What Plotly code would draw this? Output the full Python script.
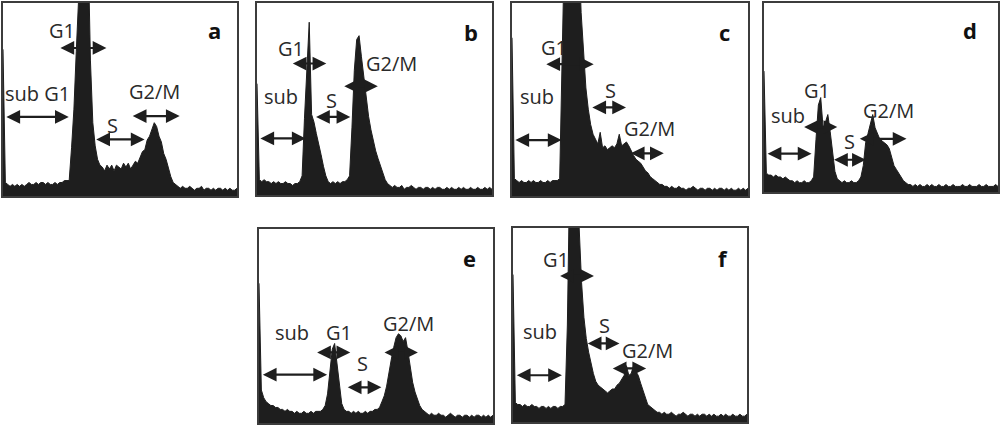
import plotly.graph_objects as go

# ---------------- data: DNA-content histograms (counts in % of frame height) ----------
channels = list(range(100))

counts_a = [76,
            7, 6, 5, 6, 5, 6, 5, 6, 5, 6, 7, 6, 6, 7, 6, 7, 7, 6, 7, 6, 6, 7, 6, 7, 7, 8, 8,
            8, 25, 45, 75, 130, 130, 130, 130, 130, 70, 38, 26, 19, 16,
            15, 13, 16, 14, 16, 13, 16, 15, 14, 17, 15, 17, 14, 16, 18, 17,
            20, 23, 24, 29, 31, 34, 38, 36, 31, 28, 22, 19, 14, 10, 7, 6,
            5, 4, 5, 4, 4, 5, 4, 3, 4, 4, 5, 3, 4, 4, 3, 4, 3, 4, 4, 3, 4, 3, 4, 3, 3, 4]

counts_b = [58,
            8, 7, 8, 7, 7, 6, 7, 6, 7, 6, 6, 7, 6, 6, 5, 6, 6, 7,
            10, 40, 65, 90, 42, 38, 32, 27, 21, 15, 10, 7,
            6, 7, 6, 7, 6, 7, 7, 8,
            10, 35, 65, 81, 83, 72, 61, 50, 41, 34, 28, 23, 19, 15, 11, 8, 6,
            5, 4, 5, 4, 4, 5, 3, 4, 4, 5, 4, 3, 4, 4, 3, 4, 4, 3, 4, 3, 4, 4,
            3, 3, 4, 3, 4, 3, 3, 4, 3, 4, 3, 3, 4, 3, 3, 4, 3, 3, 4, 3, 4, 3]

counts_c = [82,
            9, 8, 7, 8, 7, 7, 8, 7, 8, 7, 7, 8, 7, 7, 8, 7, 8, 8, 8,
            9, 80, 130, 130, 130, 130, 130, 130, 130, 95, 72, 56, 45, 37, 32, 29,
            27, 33, 25, 26, 24, 25, 26, 25, 27, 32, 26, 27, 28, 26, 23,
            21, 19, 18, 17, 15, 13, 12, 10, 9, 8, 7, 6, 6,
            5, 5, 4, 5, 4, 4, 5, 4, 4, 3, 4, 4, 5, 4, 3, 4, 4, 3, 4, 4,
            3, 4, 3, 4, 4, 3, 4, 3, 4, 3, 3, 4, 3, 4, 3, 4]

counts_d = [64,
            10, 9, 9, 8, 9, 8, 8, 7, 8, 7, 6, 6, 5, 6, 5, 5, 6, 5, 5, 6,
            8, 28, 46, 50, 34, 37, 41, 32, 20, 11, 7,
            6, 5, 6, 5, 5, 6, 5, 5, 6, 8,
            14, 26, 31, 36, 41, 34, 31, 28, 27, 26, 25, 23, 19, 14, 12, 10, 8, 6, 5,
            4, 4, 3, 4, 3, 4, 3, 3, 4, 3, 4, 3, 3, 4, 3, 3, 4, 3, 3, 4,
            3, 3, 3, 4, 3, 3, 4, 3, 3, 3, 4, 3, 3, 4, 3, 3, 3, 4, 3]

counts_e = [72,
            17, 13, 11, 10, 9, 9, 8, 8, 7, 7, 6, 7, 6, 6, 5, 6, 5, 5, 6, 5, 5, 6, 5, 6, 6, 6, 7,
            9, 15, 27, 38, 41, 30, 18, 10, 7,
            6, 6, 5, 6, 5, 6, 5, 5, 6, 5, 6, 6, 7, 7,
            8, 11, 14, 19, 27, 33, 39, 44, 46, 45, 42, 44, 37, 28, 21, 16, 12, 9, 7, 6,
            5, 4, 5, 4, 4, 5, 4, 4, 3, 4, 5, 4, 3, 4, 4, 3, 4, 4, 3, 4,
            3, 4, 4, 3, 4, 3, 4, 3, 4]

counts_f = [76,
            10, 9, 9, 8, 9, 8, 8, 9, 8, 8, 7, 8, 8, 7, 8, 7, 8, 8, 7, 8, 8, 9,
            50, 130, 130, 130, 130, 100, 72, 54, 43, 36, 30, 25, 21, 19, 18, 17, 16, 15,
            16, 17, 17, 19, 20, 22, 24, 29, 24, 25, 29, 26, 24, 20, 16, 12, 9, 8, 7, 6,
            5, 5, 4, 5, 4, 4, 5, 4, 3, 4, 4, 5, 4, 3, 4, 4, 3, 4, 3, 4,
            4, 3, 4, 3, 4, 3, 3, 4, 3, 4, 3, 3, 4, 3, 3, 4, 3, 3, 4]

panel_letters = ["a", "b", "c", "d", "e", "f"]
all_counts = [counts_a, counts_b, counts_c, counts_d, counts_e, counts_f]

# phase label text per panel
phase_text = [
    ["G1", "sub G1", "S", "G2/M"],
    ["G1", "sub", "S", "G2/M"],
    ["G1", "sub", "S", "G2/M"],
    ["G1", "sub", "S", "G2/M"],
    ["G1", "sub", "S", "G2/M"],
    ["G1", "sub", "S", "G2/M"],
]

# ---------------- layout spec (positions in % of frame) ----------------
domains = [
    (0.003, 0.237, 0.5388, 0.9929),
    (0.257, 0.492, 0.5410, 0.9929),
    (0.512, 0.748, 0.5388, 0.9929),
    (0.764, 0.998, 0.5480, 0.9929),
    (0.259, 0.493, 0.0047, 0.4612),
    (0.513, 0.747, 0.0071, 0.4635),
]
arrow_pos = [
    [(23.9, 44.2, 76.7), (0.8, 28.1, 41.0), (39.2, 60.5, 29.3), (54.8, 75.5, 41.4)],
    [(14.6, 29.5, 68.5), (0.8, 20.7, 29.5), (24.5, 39.7, 40.7), (36.5, 51.4, 56.7)],
    [(13.9, 34.6, 68.3), (0.8, 21.0, 29.0), (33.4, 48.3, 45.9), (49.7, 64.3, 22.1)],
    [(16.5, 31.3, 34.4), (0.9, 20.3, 20.3), (29.3, 43.5, 17.1), (40.3, 60.9, 28.2)],
    [(24.2, 39.0, 36.4), (1.0, 29.1, 24.9), (37.3, 52.3, 18.4), (53.0, 67.9, 36.4)],
    [(19.5, 34.6, 75.3), (1.0, 20.9, 24.1), (31.3, 45.5, 40.5), (42.0, 56.9, 27.6)],
]
label_pos = [
    [(25.2, 85.5), (14.7, 53.1), (47.0, 36.7), (64.8, 54.0)],
    [(14.6, 76.3), (10.3, 51.1), (31.6, 49.4), (57.1, 68.5)],
    [(17.8, 77.2), (10.5, 51.4), (41.9, 54.8), (58.2, 35.0)],
    [(22.5, 53.8), (10.4, 40.6), (36.4, 26.5), (53.1, 43.2)],
    [(34.2, 46.8), (14.2, 46.8), (44.4, 30.9), (63.7, 51.5)],
    [(18.5, 84.0), (11.4, 46.9), (39.1, 50.0), (57.6, 36.6)],
]
letter_pos = [(90.5, 85.9), (91.0, 84.9), (90.1, 85.0), (87.9, 85.5), (90.0, 84.9), (89.6, 84.5)]

INK = "#1e1e1e"
TEXT = "#2a2a2a"
FRAME = "#3c3c3c"
FONT = "Open Sans"
XS = 0.99  # % of frame -> channel units

fig = go.Figure()
layout = dict(width=1000, height=425, margin=dict(l=0, r=0, t=0, b=0),
              paper_bgcolor="white", plot_bgcolor="white", showlegend=False)
annotations = []

for k in range(6):
    n = k + 1
    sfx = "" if n == 1 else str(n)
    xa, ya = "x" + sfx, "y" + sfx
    counts = all_counts[k]
    fig.add_trace(go.Scatter(
        x=channels[:len(counts)], y=counts, xaxis=xa, yaxis=ya, mode="lines",
        line=dict(color=INK, width=1), fill="tozeroy", fillcolor=INK,
        hoverinfo="skip"))
    d = domains[k]
    axis_common = dict(showgrid=False, zeroline=False, showticklabels=False, ticks="",
                       showline=True, mirror=True, linecolor=FRAME, linewidth=2,
                       fixedrange=True)
    layout["xaxis" + sfx] = dict(domain=[d[0], d[1]], range=[0, 99], anchor=ya, **axis_common)
    layout["yaxis" + sfx] = dict(domain=[d[2], d[3]], range=[0, 100], anchor=xa, **axis_common)

    for (x0, x1, yy) in arrow_pos[k]:
        annotations.append(dict(
            xref=xa, yref=ya, axref=xa, ayref=ya,
            x=x1 * XS, y=yy, ax=x0 * XS, ay=yy, text="",
            showarrow=True, arrowhead=2, startarrowhead=2, arrowside="end+start",
            arrowsize=1.25, startarrowsize=1.25, arrowwidth=2.2, arrowcolor=INK,
            standoff=0, startstandoff=0))
    for txt, (lx, ly) in zip(phase_text[k], label_pos[k]):
        annotations.append(dict(
            xref=xa, yref=ya, x=lx * XS, y=ly, text=txt, showarrow=False,
            xanchor="center", yanchor="middle",
            font=dict(family=FONT, size=20, color=TEXT)))
    lx, ly = letter_pos[k]
    annotations.append(dict(
        xref=xa, yref=ya, x=lx * XS, y=ly, text="<b>%s</b>" % panel_letters[k],
        showarrow=False, xanchor="center", yanchor="middle",
        font=dict(family=FONT, size=22, color="#111111")))

layout["annotations"] = annotations
fig.update_layout(**layout)
fig.write_html("out.html", config={"displayModeBar": False},
               post_script="document.body.style.margin='0';")
